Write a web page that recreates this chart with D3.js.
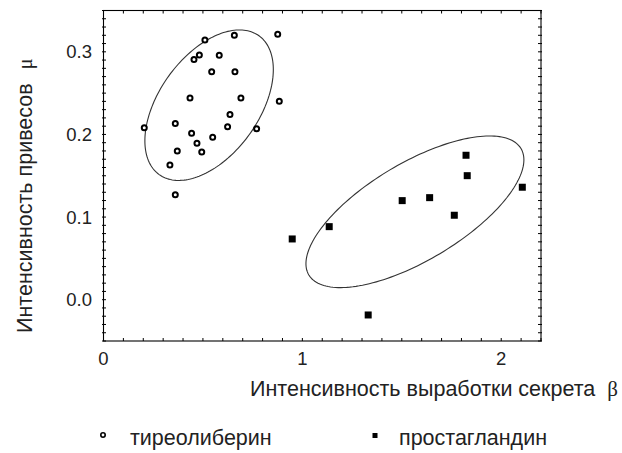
<!DOCTYPE html>
<html><head><meta charset="utf-8">
<script src="https://cdn.jsdelivr.net/npm/d3@7"></script>
<style>body{margin:0;background:#fff}svg{display:block}</style>
</head><body><svg id="c" width="622" height="453"></svg>
<script>
// ---- data ----
const tireoX = [0.510,0.658,0.876,0.455,0.482,0.582,0.544,0.661,0.435,0.691,0.884,0.636,0.205,0.361,0.624,0.770,0.443,0.549,0.470,0.371,0.494,0.334,0.361];
const tireoY = [0.3144,0.3201,0.3213,0.2906,0.2962,0.2959,0.2760,0.2760,0.2442,0.2442,0.2402,0.2240,0.2082,0.2131,0.2094,0.2070,0.2015,0.1966,0.1893,0.1800,0.1788,0.1631,0.1271];
const prostX = [1.823,1.829,2.106,1.502,1.640,1.764,1.135,0.949,1.331];
const prostY = [0.1748,0.1501,0.1361,0.1199,0.1235,0.1022,0.0884,0.0735,-0.0185];
// ellipses: center, semi-axis vectors (data units)
const ellipseCenters = [[0.531,0.2354],[1.566,0.1064]];
const ellipseAxisU = [[0.2509,0.0840],[0.5334,0.0765]];
const ellipseAxisV = [[0.2033,-0.0352],[0.1256,-0.0507]];
const xTicks = [0,1,2];
const yTicks = [0.0,0.1,0.2,0.3];
const xLabel = "Интенсивность выработки секрета";
const xSym = "β";
const yLabel = "Интенсивность привесов";
const ySym = "μ";
const legendNames = ["тиреолиберин","простагландин"];

// ---- layout ----
const svg = d3.select("#c");
const L=103.5, R=541, T=10.5, B=341;
const x = d3.scaleLinear().domain([0,2.2]).range([L,R]);
const y = d3.scaleLinear().domain([-0.05,0.35]).range([B,T]);
const font = "'Liberation Sans', Arial, sans-serif";
const serif = "'Liberation Serif', 'DejaVu Serif', serif";

// frame
svg.append("rect").attr("x",L).attr("y",T).attr("width",R-L).attr("height",B-T)
  .attr("fill","none").attr("stroke","#000").attr("stroke-width",1.1);

// ticks
const minorX = d3.range(0,2.21,0.1);
const minorY = d3.range(-0.05,0.351,0.01);
const g = svg.append("g").attr("stroke","#000").attr("stroke-width",1);
g.selectAll(".tb").data(minorX).join("line").attr("x1",d=>x(d)).attr("x2",d=>x(d)).attr("y1",B).attr("y2",B-3);
g.selectAll(".tt").data(minorX).join("line").attr("x1",d=>x(d)).attr("x2",d=>x(d)).attr("y1",T).attr("y2",T+3);
g.selectAll(".tl").data(minorY).join("line").attr("y1",d=>y(d)).attr("y2",d=>y(d)).attr("x1",L-1.5).attr("x2",L+2.5);
g.selectAll(".tr").data(minorY).join("line").attr("y1",d=>y(d)).attr("y2",d=>y(d)).attr("x1",R-3).attr("x2",R+1);

// tick labels
svg.selectAll(".xl").data(xTicks).join("text").attr("x",d=>x(d)).attr("y",365)
  .attr("text-anchor","middle").attr("font-family",font).attr("font-size",18.5).attr("fill","#222").text(d=>d);
svg.selectAll(".yl").data(yTicks).join("text").attr("x",92).attr("y",d=>y(d)+6.5)
  .attr("text-anchor","end").attr("font-family",font).attr("font-size",18.5).attr("fill","#222").text(d=>d.toFixed(1));

// axis titles
const xt = svg.append("text").attr("x",250).attr("y",396).attr("font-family",font).attr("font-size",21.5).attr("fill","#222");
xt.append("tspan").text(xLabel);
xt.append("tspan").attr("dx",12).attr("font-family",serif).attr("font-size",21).text(xSym);
const yt = svg.append("text").attr("transform","translate(32,333) rotate(-90)").attr("font-family",font).attr("font-size",21.5).attr("fill","#222");
yt.append("tspan").text(yLabel);
yt.append("tspan").attr("dx",14).attr("font-family",serif).attr("font-size",20).text(ySym);

// ellipses
const line = d3.line().x(d=>x(d[0])).y(d=>y(d[1])).curve(d3.curveLinearClosed);
ellipseCenters.forEach((c,i)=>{
  const u=ellipseAxisU[i], v=ellipseAxisV[i];
  const pts = d3.range(0,360,2).map(a=>{const t=a*Math.PI/180;return [c[0]+u[0]*Math.cos(t)+v[0]*Math.sin(t), c[1]+u[1]*Math.cos(t)+v[1]*Math.sin(t)];});
  svg.append("path").attr("d",line(pts)).attr("fill","none").attr("stroke","#333").attr("stroke-width",1.1);
});

// points
const tireo = tireoX.map((d,i)=>[d,tireoY[i]]);
const prost = prostX.map((d,i)=>[d,prostY[i]]);
svg.selectAll(".c").data(tireo).join("circle").attr("cx",d=>x(d[0])).attr("cy",d=>y(d[1])).attr("r",2.5)
  .attr("fill","#fff").attr("stroke","#000").attr("stroke-width",2);
svg.selectAll(".s").data(prost).join("rect").attr("x",d=>x(d[0])-3.5).attr("y",d=>y(d[1])-3.5).attr("width",7).attr("height",7).attr("fill","#000");

// legend
svg.append("circle").attr("cx",103).attr("cy",435).attr("r",2.2).attr("fill","#fff").attr("stroke","#000").attr("stroke-width",1.6);
svg.append("text").attr("x",130).attr("y",445).attr("font-family",font).attr("font-size",21.5).attr("fill","#222").text(legendNames[0]);
svg.append("rect").attr("x",372.5).attr("y",433).attr("width",5).attr("height",5).attr("fill","#000");
svg.append("text").attr("x",399).attr("y",445).attr("font-family",font).attr("font-size",21.5).attr("fill","#222").text(legendNames[1]);
</script></body></html>
